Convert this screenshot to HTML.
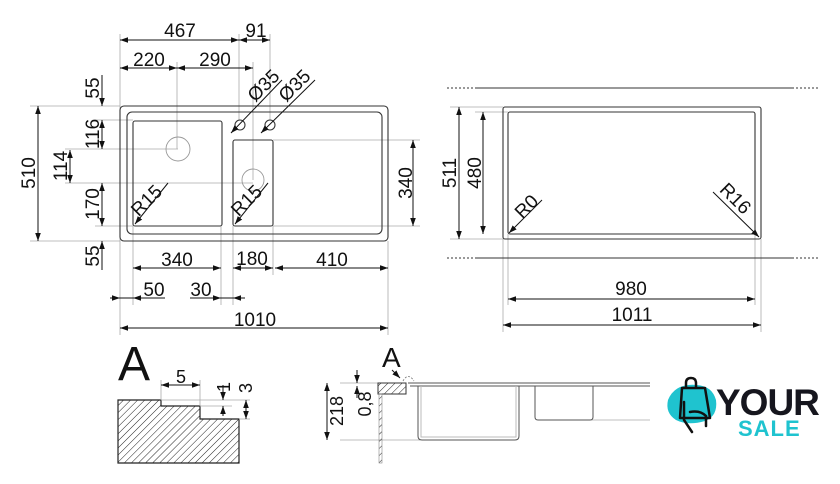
<!DOCTYPE html>
<html><head><meta charset="utf-8"><style>
html,body{margin:0;padding:0;background:#fff;}
svg{display:block;}
text{font-family:"Liberation Sans",sans-serif;fill:#111;}
</style></head><body>
<svg width="840" height="484" viewBox="0 0 840 484" xmlns="http://www.w3.org/2000/svg">
<defs>
<marker id="a" viewBox="0 0 10 10" refX="10" refY="5" markerWidth="8" markerHeight="8" orient="auto-start-reverse" markerUnits="userSpaceOnUse"><path d="M0,1.5 L10,5 L0,8.5 z" fill="#111"/></marker>
<pattern id="h" width="5" height="5" patternUnits="userSpaceOnUse" patternTransform="rotate(45)"><line x1="0" y1="0" x2="0" y2="5" stroke="#222" stroke-width="1"/></pattern>
</defs>

<g stroke="#aaa" stroke-width="0.8" fill="none">
<line x1="120" y1="34" x2="120" y2="335"/>
<line x1="239" y1="34" x2="239" y2="120"/>
<line x1="270" y1="34" x2="270" y2="120"/>
<line x1="177" y1="62" x2="177" y2="149"/>
<line x1="253" y1="62" x2="253" y2="180"/>
<line x1="388" y1="241" x2="388" y2="335"/>
<line x1="133" y1="226" x2="133" y2="305"/>
<line x1="221" y1="226" x2="221" y2="305"/>
<line x1="233" y1="226" x2="233" y2="305"/>
<line x1="273" y1="226" x2="273" y2="275"/>
<line x1="30" y1="106" x2="120" y2="106"/>
<line x1="30" y1="241" x2="120" y2="241"/>
<line x1="95" y1="120" x2="133" y2="120"/>
<line x1="65" y1="149" x2="178" y2="149"/>
<line x1="65" y1="183" x2="253" y2="183"/>
<line x1="95" y1="226" x2="133" y2="226"/>
<line x1="273" y1="140" x2="420" y2="140"/>
<line x1="273" y1="226" x2="420" y2="226"/>
<line x1="450" y1="107" x2="503" y2="107"/>
<line x1="475" y1="112" x2="508" y2="112"/>
<line x1="450" y1="239" x2="508" y2="239"/>
<line x1="503" y1="239" x2="503" y2="332"/>
<line x1="761" y1="239" x2="761" y2="332"/>
<line x1="508" y1="234" x2="508" y2="305"/>
<line x1="755" y1="234" x2="755" y2="305"/>
</g>

<g stroke="#333" stroke-width="1.1" fill="none">
<rect x="120" y="106" width="268" height="135" rx="4"/>
<rect x="127" y="112" width="255" height="122" rx="5"/>
<rect x="133" y="121" width="89" height="105" rx="2"/>
<rect x="233" y="140" width="40" height="86" rx="2"/>
<circle cx="240" cy="125" r="5"/>
<circle cx="270" cy="125" r="5"/>
</g>
<g stroke="#999" stroke-width="0.9" fill="none">
<circle cx="178" cy="149" r="12"/>
<circle cx="253" cy="180" r="11"/>
</g>

<g stroke="#111" stroke-width="1" fill="none" marker-start="url(#a)" marker-end="url(#a)">
<line x1="120" y1="40" x2="239" y2="40"/>
<line x1="239" y1="40" x2="270" y2="40"/>
<line x1="120" y1="68" x2="177" y2="68"/>
<line x1="177" y1="68" x2="253" y2="68"/>
<line x1="38" y1="106" x2="38" y2="241"/>
<line x1="70" y1="150" x2="70" y2="183"/>
<line x1="102" y1="120" x2="102" y2="149"/>
<line x1="102" y1="183" x2="102" y2="226"/>
<line x1="413" y1="140" x2="413" y2="226"/>
<line x1="133" y1="268" x2="221" y2="268"/>
<line x1="233" y1="268" x2="273" y2="268"/>
<line x1="275" y1="268" x2="388" y2="268"/>
<line x1="120" y1="328" x2="388" y2="328"/>
</g>
<g stroke="#111" stroke-width="1" fill="none">
<line x1="102" y1="75" x2="102" y2="106" marker-end="url(#a)"/>
<line x1="102" y1="270" x2="102" y2="241" marker-end="url(#a)"/>
<line x1="110" y1="298" x2="120" y2="298" marker-end="url(#a)"/>
<line x1="165" y1="298" x2="133" y2="298" marker-end="url(#a)"/>
<line x1="190" y1="298" x2="221" y2="298" marker-end="url(#a)"/>
<line x1="245" y1="298" x2="233" y2="298" marker-end="url(#a)"/>
<line x1="120" y1="298" x2="133" y2="298"/>
<line x1="221" y1="298" x2="233" y2="298"/>
<line x1="168" y1="183" x2="135" y2="224" marker-end="url(#a)"/>
<line x1="268" y1="183" x2="235" y2="224" marker-end="url(#a)"/>
<line x1="282" y1="80" x2="231" y2="133" marker-end="url(#a)"/>
<line x1="315" y1="80" x2="261" y2="133" marker-end="url(#a)"/>
</g>
<g font-size="19">
<text x="180" y="37" text-anchor="middle">467</text>
<text x="256" y="37" text-anchor="middle">91</text>
<text x="149" y="66" text-anchor="middle">220</text>
<text x="215" y="66" text-anchor="middle">290</text>
<text x="177" y="266" text-anchor="middle">340</text>
<text x="252" y="265" text-anchor="middle">180</text>
<text x="332" y="266" text-anchor="middle">410</text>
<text x="154" y="296" text-anchor="middle">50</text>
<text x="201" y="296" text-anchor="middle">30</text>
<text x="255" y="326" text-anchor="middle">1010</text>
<text transform="translate(35,173) rotate(-90)" text-anchor="middle">510</text>
<text transform="translate(99,88) rotate(-90)" text-anchor="middle">55</text>
<text transform="translate(99,134) rotate(-90)" text-anchor="middle">116</text>
<text transform="translate(67,166) rotate(-90)" text-anchor="middle">114</text>
<text transform="translate(99,204) rotate(-90)" text-anchor="middle">170</text>
<text transform="translate(99,256) rotate(-90)" text-anchor="middle">55</text>
<text transform="translate(412,183) rotate(-90)" text-anchor="middle">340</text>
<text transform="translate(151,205) rotate(-45)" text-anchor="middle">R15</text>
<text transform="translate(251,205) rotate(-45)" text-anchor="middle">R15</text>
<text transform="translate(268,90) rotate(-45)" text-anchor="middle">Ø35</text>
<text transform="translate(299,90) rotate(-45)" text-anchor="middle">Ø35</text>
</g>

<g stroke="#333" stroke-width="1.1" fill="none">
<line x1="476" y1="88" x2="792" y2="88"/>
<line x1="476" y1="258" x2="792" y2="258"/>
<line x1="447" y1="88" x2="476" y2="88" stroke-dasharray="2,2"/>
<line x1="792" y1="88" x2="820" y2="88" stroke-dasharray="2,2"/>
<line x1="447" y1="258" x2="476" y2="258" stroke-dasharray="2,2"/>
<line x1="792" y1="258" x2="820" y2="258" stroke-dasharray="2,2"/>
<rect x="503" y="107" width="258" height="132" rx="2"/>
<rect x="508" y="112" width="247" height="122" rx="2"/>
</g>
<g stroke="#111" stroke-width="1" fill="none" marker-start="url(#a)" marker-end="url(#a)">
<line x1="459" y1="107" x2="459" y2="239"/>
<line x1="483" y1="112" x2="483" y2="234"/>
<line x1="508" y1="299" x2="755" y2="299"/>
<line x1="503" y1="325" x2="761" y2="325"/>
</g>
<g stroke="#111" stroke-width="1" fill="none">
<line x1="542" y1="200" x2="509" y2="233" marker-end="url(#a)"/>
<line x1="713" y1="192" x2="759" y2="237" marker-end="url(#a)"/>
</g>
<g font-size="19">
<text x="631" y="295" text-anchor="middle">980</text>
<text x="632" y="321" text-anchor="middle">1011</text>
<text transform="translate(456,173) rotate(-90)" text-anchor="middle">511</text>
<text transform="translate(481,173) rotate(-90)" text-anchor="middle">480</text>
<text transform="translate(531,211) rotate(-45)" text-anchor="middle">R0</text>
<text transform="translate(731,203) rotate(45)" text-anchor="middle">R16</text>
</g>

<text x="118" y="380" font-size="48">A</text>
<path d="M118,400 H161 V406 H200 V419 H239 V463 H118 Z" fill="url(#h)" stroke="#222" stroke-width="1.2"/>
<g stroke="#aaa" stroke-width="0.8">
<line x1="161" y1="380" x2="161" y2="400"/>
<line x1="200" y1="380" x2="200" y2="406"/>
<line x1="161" y1="400" x2="250" y2="400"/>
<line x1="200" y1="406" x2="232" y2="406"/>
<line x1="239" y1="419" x2="250" y2="419"/>
</g>
<g stroke="#111" stroke-width="1" fill="none">
<line x1="161" y1="385" x2="200" y2="385" marker-start="url(#a)" marker-end="url(#a)"/>
<line x1="223" y1="385" x2="223" y2="400" marker-end="url(#a)"/>
<line x1="223" y1="416" x2="223" y2="406" marker-end="url(#a)"/>
<line x1="246" y1="400" x2="246" y2="419" marker-start="url(#a)" marker-end="url(#a)"/>
</g>
<g font-size="18">
<text x="181" y="383" text-anchor="middle">5</text>
<text transform="translate(230,387) rotate(-90)" text-anchor="middle">1</text>
<text transform="translate(252,388) rotate(-90)" text-anchor="middle">3</text>
</g>

<text x="382" y="367" font-size="28">A</text>
<line x1="392" y1="370" x2="400" y2="378" stroke="#111" stroke-width="1" marker-end="url(#a)"/>
<path d="M403,381 Q408,372 414,381" stroke="#777" stroke-width="0.8" fill="none" stroke-dasharray="2,1.5"/>
<g stroke="#aaa" stroke-width="0.8">
<line x1="340" y1="383" x2="400" y2="383"/>
<line x1="340" y1="440" x2="420" y2="440"/>
<line x1="550" y1="420" x2="650" y2="420"/>
</g>
<rect x="378" y="383" width="28" height="11" fill="url(#h)" stroke="#333" stroke-width="1"/>
<rect x="379" y="394" width="3" height="69" fill="url(#h)" stroke="#888" stroke-width="0.6"/>
<g stroke="#555" stroke-width="1" fill="none">
<line x1="408" y1="383" x2="650" y2="383"/>
<line x1="410" y1="386" x2="650" y2="386"/>
<path d="M418,386 V436 Q418,440 422,440 H515 Q519,440 519,436 V386"/>
<path d="M421,386 V437 H516 V386" stroke="#bbb"/>
<path d="M535,386 V417 Q535,420 538,420 H590 Q593,420 593,417 V386"/>
</g>
<g stroke="#111" stroke-width="1" fill="none">
<line x1="327" y1="383" x2="327" y2="440" marker-start="url(#a)" marker-end="url(#a)"/>
<line x1="357" y1="370" x2="357" y2="383" marker-end="url(#a)"/>
<line x1="357" y1="398" x2="357" y2="386" marker-end="url(#a)"/>
</g>
<g font-size="18">
<text transform="translate(343,411) rotate(-90)" text-anchor="middle">218</text>
<text transform="translate(371,404) rotate(-90)" text-anchor="middle">0,8</text>
</g>

<path d="M668,400 Q675,383 697,385 Q712,386 716,400 Q718,416 705,421 Q688,426 676,420 Q665,413 668,400 Z" fill="#1fc3cf"/>
<path d="M686,388 V383 Q686,378 691,378 Q696,378 696,383 V388 M682,388 H705 L710,418 H680 Z" stroke="#111" stroke-width="2.5" fill="none" stroke-linejoin="round"/>
<path d="M684,402 V420 L692,432 M690,412 Q700,410 706,416 V426" stroke="#111" stroke-width="2.5" fill="none" stroke-linecap="round"/>
<text x="716" y="415" font-size="37" font-weight="bold" style="fill:#16161e;letter-spacing:-1px">YOUR</text>
<text x="738" y="436" font-size="22" font-weight="bold" style="fill:#1fc3cf;letter-spacing:1px">SALE</text>
</svg>
</body></html>
